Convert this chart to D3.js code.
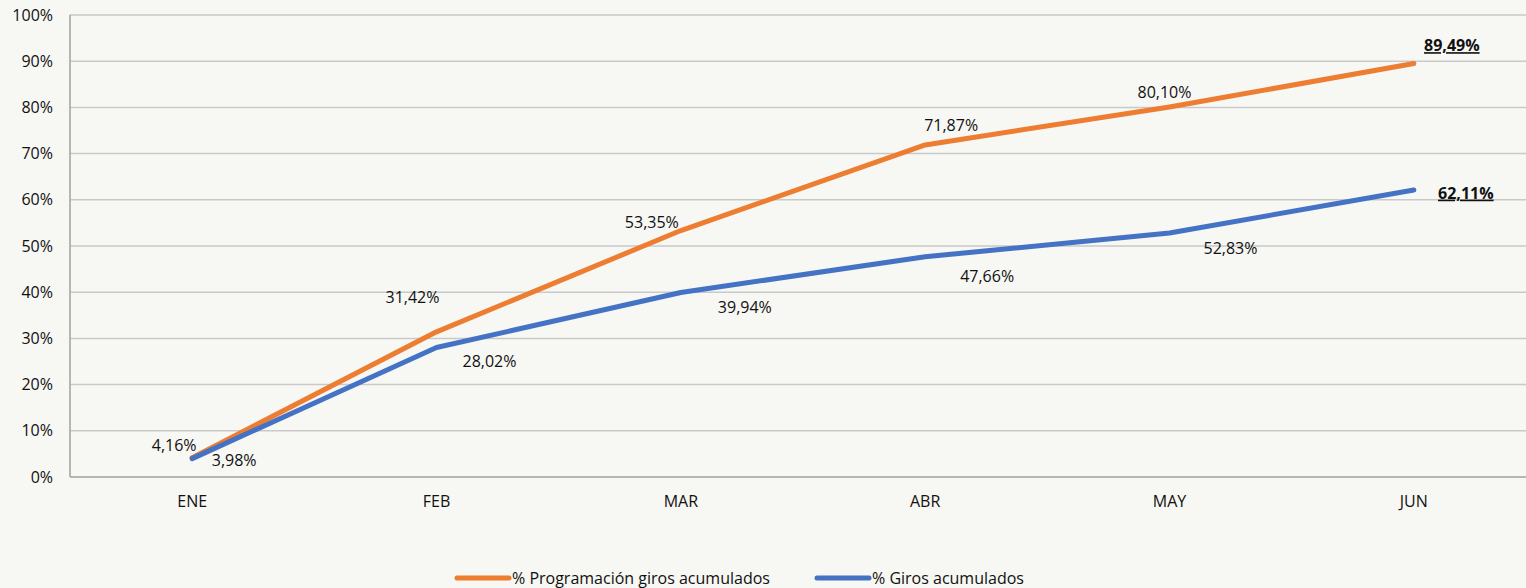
<!doctype html>
<html>
<head>
<script src="https://d3js.org/d3.v7.min.js"></script>
<style>
  body { margin: 0; background: #f7f7f3; }
  text { font-family: "Open Sans", sans-serif; fill: #111; }
</style>
</head>
<body>
<svg width="1526" height="588"></svg>
<script>
var months = ["ENE", "FEB", "MAR", "ABR", "MAY", "JUN"];
var programacion = [4.16, 31.42, 53.35, 71.87, 80.10, 89.49];
var giros = [3.98, 28.02, 39.94, 47.66, 52.83, 62.11];
var yTicks = [0, 10, 20, 30, 40, 50, 60, 70, 80, 90, 100];
var seriesNames = ["% Programación giros acumulados", "% Giros acumulados"];

// label offsets from the point (dx, dy)
var progOffsets = [[-18, -12], [-24, -34], [-29, -8], [26, -20], [-5, -15], [38, -18]];
var girosOffsets = [[42, 2], [53, 14], [64, 15], [62, 20], [61, 15], [52, 3]];

var svg = d3.select("svg"),
    plotLeft = 70, plotTop = 15, plotRight = 1536, plotBottom = 477;

var x = d3.scaleBand().domain(months).range([plotLeft, plotRight]);
var y = d3.scaleLinear().domain([0, 100]).range([plotBottom, plotTop]);

var g = svg.append("g");

g.selectAll(".grid").data(yTicks).enter().append("line")
  .attr("x1", plotLeft).attr("x2", 1526)
  .attr("y1", function(d) { return y(d); }).attr("y2", function(d) { return y(d); })
  .attr("stroke", function(d) { return d == 0 ? "#a0a0a0" : "#c9c9c9"; })
  .attr("stroke-width", 1.5);

g.append("line").attr("x1", plotLeft).attr("x2", plotLeft).attr("y1", plotTop).attr("y2", plotBottom)
  .attr("stroke", "#a0a0a0").attr("stroke-width", 1.5);

g.selectAll(".ytick").data(yTicks).enter().append("text")
  .attr("x", plotLeft - 17).attr("y", function(d) { return y(d); })
  .attr("dy", "0.35em").attr("text-anchor", "end")
  .style("font-size", "16px")
  .text(function(d) { return d + "%"; });

g.selectAll(".xtick").data(months).enter().append("text")
  .attr("x", function(d) { return x(d) + x.bandwidth() / 2; })
  .attr("y", 501).attr("dy", "0.35em").attr("text-anchor", "middle")
  .style("font-size", "16px")
  .text(function(d) { return d; });

var line = d3.line()
  .x(function(d, i) { return x(months[i]) + x.bandwidth() / 2; })
  .y(function(d) { return y(d); });

var colors = ["#ED7D31", "#4472C4"];
var all = [programacion, giros];
var offs = [progOffsets, girosOffsets];

all.forEach(function(vals, s) {
  g.append("path").datum(vals).attr("d", line)
    .attr("fill", "none").attr("stroke", colors[s])
    .attr("stroke-width", 5).attr("stroke-linecap", "round").attr("stroke-linejoin", "round");
});

all.forEach(function(vals, s) {
  g.selectAll(".lbl" + s).data(vals).enter().append("text")
    .attr("x", function(d, i) { return x(months[i]) + x.bandwidth() / 2 + offs[s][i][0]; })
    .attr("y", function(d, i) { return y(d) + offs[s][i][1]; })
    .attr("dy", "0.35em").attr("text-anchor", "middle")
    .style("font-size", "16px")
    .style("font-weight", function(d, i) { return i == vals.length - 1 ? "bold" : "normal"; })
    .style("text-decoration", function(d, i) { return i == vals.length - 1 ? "underline" : "none"; })
    .text(function(d) { return d.toFixed(2).replace(".", ",") + "%"; });
});

var legendX = [455, 815];
seriesNames.forEach(function(name, s) {
  var lg = svg.append("g").attr("transform", "translate(" + legendX[s] + ",578)");
  lg.append("line").attr("x1", 2).attr("x2", 54).attr("y1", 0).attr("y2", 0)
    .attr("stroke", colors[s]).attr("stroke-width", 5).attr("stroke-linecap", "round");
  lg.append("text").attr("x", 57).attr("y", 0).attr("dy", "0.35em")
    .style("font-size", "16px").text(name);
});
</script>
</body>
</html>
